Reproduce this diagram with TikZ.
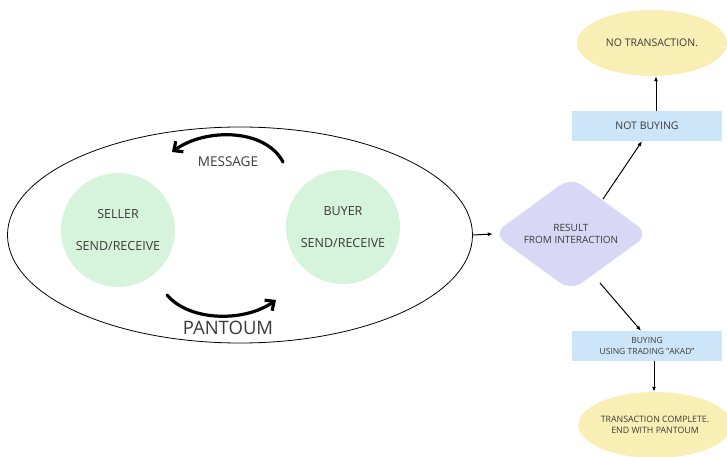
\documentclass[tikz,border=0pt]{standalone}
\usepackage{fontspec}
\setmainfont{Open Sans}
\usetikzlibrary{arrows.meta,shapes.geometric}
\definecolor{circgreen}{HTML}{D6F3DB}
\definecolor{pale}{HTML}{F9EEB3}
\definecolor{boxblue}{HTML}{CDE5F8}
\definecolor{lav}{HTML}{D8D8F6}
\definecolor{txt}{HTML}{3A3A3A}
\begin{document}
\begin{tikzpicture}[x=1pt,y=-1pt,
  party/.style={circle,fill=circgreen,minimum size=114pt,inner sep=0pt,align=center,text=txt,font=\fontsize{12.5}{15}\selectfont},
  endell/.style={ellipse,fill=pale,minimum width=150pt,minimum height=66pt,inner sep=0pt,align=center,text=txt},
  stepbox/.style={rectangle,fill=boxblue,minimum width=150pt,minimum height=30pt,inner sep=0pt,align=center,text=txt},
  thin/.style={line width=1pt,draw=black},
  arr/.style={thin,-{Latex[length=5pt,width=4pt]}},
  bigarr/.style={line width=3.2pt,line cap=round,-{Straight Barb[length=7pt,width=13pt,line width=3.2pt]}}
]
\useasboundingbox (0,0) rectangle (727,457);
\node[ellipse,draw=black,line width=0.8pt,minimum width=465pt,minimum height=216pt,inner sep=0pt] (ring) at (240,235) {};
\node[party] (seller) at (118,230) {SELLER\\[17pt]SEND/RECEIVE};
\node[party] (buyer) at (343,227) {BUYER\\[17pt]SEND/RECEIVE};
\node[text=txt,font=\fontsize{13.5}{15}\selectfont] (msg) at (228,162) {MESSAGE};
\node[text=txt,font=\fontsize{18.5}{20}\selectfont] (pan) at (228,328) {PANTOUM};
\coordinate (m1) at (283,162);
\coordinate (m2) at (172,152);
\draw[bigarr] (m1) .. controls (265,128) and (205,128) .. (m2);
\coordinate (p1) at (167,295);
\coordinate (p2) at (276,300);
\draw[bigarr] (p1) .. controls (190,322) and (245,322) .. (p2);
\node[diamond,fill=lav,rounded corners=14pt,minimum width=156pt,minimum height=112pt,inner sep=0pt,align=center,text=txt,font=\fontsize{10}{12}\selectfont] (res) at (571,234) {RESULT\\FROM INTERACTION};
\node[stepbox,font=\fontsize{10.5}{12}\selectfont] (notbuy) at (647,126) {NOT BUYING};
\node[stepbox,font=\fontsize{8.5}{11}\selectfont] (buy) at (647,346) {BUYING\\USING TRADING "AKAD"};
\node[endell,font=\fontsize{10.5}{12}\selectfont] (notr) at (652,43) {NO TRANSACTION.};
\node[endell,font=\fontsize{8.8}{11.5}\selectfont] (done) at (655,425) {TRANSACTION COMPLETE.\\END WITH PANTOUM};
\coordinate (ru) at (603,199);
\coordinate (rd) at (600,283);
\draw[arr] (ring.east) -- (res.west);
\draw[arr] (ru) -- (notbuy.south -| 642,0);
\draw[arr] (rd) -- (buy.north -| 641,0);
\draw[arr] (notbuy.north -| 656,0) -- (notr.south -| 656,0);
\draw[arr] (buy.south -| 654,0) -- (done.north -| 654,0);
\end{tikzpicture}
\end{document}
